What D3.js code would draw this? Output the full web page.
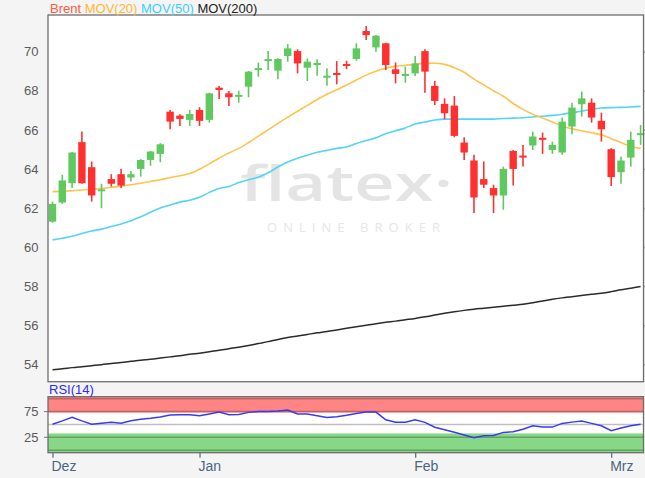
<!DOCTYPE html>
<html><head><meta charset="utf-8">
<script src="https://cdn.jsdelivr.net/npm/d3@7"></script>
<style>
html,body{margin:0;padding:0;background:#f4f4f4;}
svg{display:block;font-family:"Liberation Sans",Arial,sans-serif;}
</style></head>
<body>
<svg id="chart" width="645" height="478"></svg>
<script>
// ---- data ----
const opens  = [61.30,62.28,63.27,65.37,64.09,62.88,63.48,63.73,63.56,64.00,64.46,64.77,66.93,66.73,66.51,67.02,66.51,68.16,67.87,67.72,68.21,69.09,69.55,69.03,69.78,70.03,69.18,69.35,68.70,68.88,69.37,69.63,71.06,70.22,70.43,69.10,68.79,68.89,70.03,68.25,67.33,67.24,65.35,64.43,63.48,63.02,62.64,64.92,64.65,65.20,65.56,64.97,64.84,66.17,67.31,67.39,66.46,65.01,63.83,64.58,65.76];
const highs  = [62.33,63.70,64.87,65.91,64.38,63.24,63.73,64.00,63.90,64.50,64.92,65.32,67.02,66.80,67.02,67.16,67.90,68.25,67.99,68.00,69.01,69.44,70.03,69.66,70.39,70.12,69.66,69.61,69.15,69.52,69.54,70.43,71.31,70.85,70.46,69.45,69.23,69.78,70.12,68.50,67.61,67.73,65.62,64.72,64.38,63.19,64.12,64.97,65.23,65.91,65.86,65.40,66.63,67.39,67.96,67.61,66.88,65.06,64.63,65.91,66.25];
const lows   = [61.25,62.21,63.02,63.24,62.33,61.99,63.10,63.02,63.36,63.61,64.16,64.34,66.03,66.20,66.20,66.20,66.37,67.58,67.22,67.39,67.67,68.72,69.06,68.59,69.49,68.89,68.50,68.77,68.26,68.33,69.11,69.54,70.60,70.00,69.06,68.38,68.41,68.76,67.90,67.27,66.54,65.62,64.46,61.74,63.02,61.74,61.91,63.15,64.12,64.97,64.77,64.77,64.72,65.78,66.68,66.37,65.40,63.13,63.24,64.12,65.23];
const closes = [62.21,63.41,64.84,63.27,62.64,62.93,63.24,63.15,63.73,64.46,64.89,65.26,66.42,66.56,66.81,66.46,67.87,68.04,67.67,67.76,68.98,69.13,69.59,69.63,70.17,69.40,69.49,69.39,68.74,68.84,69.27,70.17,70.85,70.82,69.32,68.86,68.83,69.40,68.98,67.48,66.85,65.69,64.84,62.54,63.19,62.64,64.00,64.00,64.61,65.66,65.52,65.23,66.42,67.14,67.61,66.63,66.03,63.58,64.43,65.49,65.80];
const mov20  = [62.84,62.85,62.88,62.92,62.96,63.00,63.06,63.12,63.19,63.27,63.36,63.45,63.55,63.65,63.76,63.98,64.26,64.55,64.82,65.05,65.35,65.68,66.00,66.33,66.65,66.95,67.25,67.55,67.82,68.05,68.30,68.55,68.80,69.00,69.15,69.25,69.30,69.36,69.40,69.41,69.35,69.18,68.95,68.60,68.30,68.00,67.72,67.35,67.05,66.80,66.60,66.40,66.20,66.05,65.95,65.85,65.75,65.55,65.35,65.15,65.05];
const mov50  = [60.37,60.45,60.55,60.70,60.82,60.92,61.05,61.18,61.35,61.55,61.78,62.00,62.15,62.30,62.40,62.55,62.80,63.00,63.10,63.30,63.45,63.58,63.80,64.10,64.35,64.55,64.70,64.85,64.95,65.05,65.12,65.30,65.45,65.60,65.80,65.95,66.10,66.30,66.40,66.50,66.55,66.55,66.55,66.55,66.55,66.55,66.58,66.60,66.62,66.66,66.70,66.74,66.80,66.88,66.95,67.05,67.12,67.14,67.15,67.17,67.20];
const mov200 = [53.72,53.77,53.83,53.88,53.93,53.98,54.04,54.09,54.15,54.21,54.26,54.32,54.38,54.44,54.51,54.57,54.64,54.72,54.80,54.87,54.96,55.06,55.16,55.27,55.37,55.45,55.53,55.61,55.68,55.76,55.84,55.92,56.00,56.08,56.15,56.21,56.28,56.35,56.43,56.52,56.61,56.69,56.76,56.82,56.87,56.92,56.97,57.02,57.07,57.15,57.24,57.33,57.40,57.46,57.52,57.58,57.64,57.72,57.81,57.89,57.98];
const rsi    = [50.5,57,64,57,50.5,52.5,54.5,52.5,57,60,62,64.5,68.5,68.7,68.7,67,70.5,74,68.7,69.3,73.5,75,75,76,78,70.5,70.2,67,63.5,65,68,71.5,74,74,59,54.5,54.5,59,54,44.5,39.5,34.7,29.5,24,27.9,28.6,34.5,35.7,40.8,47.4,44.8,44.8,52,54.5,56.6,52.1,47.5,37.7,43,47.4,50.3];
const priceTicks = [54,56,58,60,62,64,66,68,70];
const rsiTicks = [25,75];
const rsiGrid = [0,25,50,75,100];
const monthLabels = ["Dez","Jan","Feb","Mrz"];
const monthIndex = [0,15,37,57];
const legendNames = ["Brent","MOV(20)","MOV(50)","MOV(200)"];

// ---- layout ----
const svg = d3.select("#chart");
const P = {l:48, r:643.5, t:15, b:381.7};
const R = {t:396.7, b:452.7};
const x = d3.scaleLinear().domain([0,60]).range([52.5,640.6]);
const y = d3.scaleLinear().domain([54,70]).range([364.3,51.7]);
const yr = d3.scaleLinear().domain([-5,104]).range([R.b,R.t]);

svg.append("rect").attr("width",645).attr("height",478).attr("fill","#f4f4f4");
// main plot background
svg.append("rect").attr("x",P.l).attr("y",P.t).attr("width",P.r-P.l).attr("height",P.b-P.t).attr("fill","#fff");

// watermark
const wm = svg.append("g").attr("fill","#e4e4e4");
wm.append("text").attr("x",240).attr("y",201).attr("font-family","'Open Sans',sans-serif")
  .attr("font-weight",600).attr("font-size",48).attr("textLength",213).attr("lengthAdjust","spacingAndGlyphs")
  .text("flatex·");
wm.append("text").attr("x",267).attr("y",232).attr("font-family","'Open Sans',sans-serif")
  .attr("font-size",13).attr("fill","#e6e6e6").attr("textLength",173).attr("lengthAdjust","spacing")
  .text("ONLINE BROKER");

// grid + y axis
const yAxis = d3.axisLeft(y).tickValues(priceTicks).tickSize(-(P.r-P.l)-4).tickFormat(d3.format("d")).tickPadding(6);
const ga = svg.append("g").attr("transform",`translate(${P.r},0)`).call(yAxis);
ga.select(".domain").remove();
ga.selectAll(".tick line").attr("stroke","#aaa").attr("stroke-width",1.6);
ga.selectAll(".tick text").remove();
svg.append("g").selectAll("text").data(priceTicks).join("text")
  .attr("x",38.5).attr("y",d=>y(d)).attr("dy","0.36em").attr("text-anchor","end")
  .attr("font-size",13).attr("fill","#5a5a5a").text(d=>d);

// moving averages
const line = arr => d3.line().x((d,i)=>x(i)).y(d=>y(d)).curve(d3.curveMonotoneX)(arr);
svg.append("path").attr("d",line(mov200)).attr("fill","none").attr("stroke","#2a2a2a").attr("stroke-width",1.5);
svg.append("path").attr("d",line(mov50)).attr("fill","none").attr("stroke","#52d4f6").attr("stroke-width",1.6);
svg.append("path").attr("d",line(mov20)).attr("fill","none").attr("stroke","#ffc34a").attr("stroke-width",1.6);

// candles
const idx = d3.range(opens.length);
const up = i => closes[i] >= opens[i];
const colorOf = i => up(i) ? "#5fc95f" : "#ff3030";
const cg = svg.append("g");
cg.selectAll("line").data(idx).join("line")
  .attr("x1",i=>x(i)).attr("x2",i=>x(i)).attr("y1",i=>y(highs[i])).attr("y2",i=>y(lows[i]))
  .attr("stroke",colorOf).attr("stroke-width",1.6);
const bw = 7.4;
cg.selectAll("rect").data(idx).join("rect")
  .attr("x",i=>x(i)-bw/2).attr("width",bw)
  .attr("y",i=>{const t=y(Math.max(opens[i],closes[i])), b=y(Math.min(opens[i],closes[i])); return b-t<2 ? (t+b)/2-1 : t;})
  .attr("height",i=>Math.max(2, y(Math.min(opens[i],closes[i]))-y(Math.max(opens[i],closes[i]))))
  .attr("fill",colorOf);

// main border
svg.append("rect").attr("x",P.l).attr("y",P.t).attr("width",P.r-P.l).attr("height",P.b-P.t)
  .attr("fill","none").attr("stroke","#6e6e6e").attr("stroke-width",1.3);

// legend
const lg = svg.append("text").attr("x",50).attr("y",13).attr("font-size",13);
const legendColors = ["#ff5b3f","#ffb833","#3fd0fa","#222"];
legendNames.forEach((n,k)=>lg.append("tspan").attr("fill",legendColors[k]).text((k?" ":"")+n));

// RSI panel
svg.append("rect").attr("x",P.l).attr("y",R.t).attr("width",P.r-P.l).attr("height",R.b-R.t).attr("fill","#fff");
svg.append("rect").attr("x",P.l).attr("y",R.t).attr("width",P.r-P.l).attr("height",yr(73)-R.t).attr("fill","#ff8585");
svg.append("rect").attr("x",P.l).attr("y",yr(32.5)).attr("width",P.r-P.l).attr("height",R.b-yr(32.5)).attr("fill","#86d886");
svg.append("g").selectAll("line").data(rsiGrid).join("line")
  .attr("x1",P.l).attr("x2",P.r).attr("y1",d=>yr(d)).attr("y2",d=>yr(d))
  .attr("stroke","#000").attr("stroke-opacity",0.25).attr("stroke-width",1.5);
svg.append("g").selectAll("line").data(rsiTicks).join("line")
  .attr("x1",P.l-4).attr("x2",P.l).attr("y1",d=>yr(d)).attr("y2",d=>yr(d)).attr("stroke","#777");
svg.append("g").selectAll("text").data(rsiTicks).join("text")
  .attr("x",38.5).attr("y",d=>yr(d)).attr("dy","0.36em").attr("text-anchor","end")
  .attr("font-size",13).attr("fill","#5a5a5a").text(d=>d);
svg.append("path").attr("d",d3.line().x((d,i)=>x(i)).y(d=>yr(d))(rsi))
  .attr("fill","none").attr("stroke","#3a3af0").attr("stroke-width",1.5);
svg.append("rect").attr("x",P.l).attr("y",R.t).attr("width",P.r-P.l).attr("height",R.b-R.t)
  .attr("fill","none").attr("stroke","#6e6e6e").attr("stroke-width",1.3);
svg.append("text").attr("x",49).attr("y",394).attr("font-size",13).attr("fill","#2b2bff").text("RSI(14)");

// x axis
const xa = svg.append("g").attr("transform",`translate(0,${R.b})`)
  .call(d3.axisBottom(x).tickValues(monthIndex).tickSize(5).tickFormat((d,k)=>monthLabels[k]));
xa.select(".domain").remove();
xa.selectAll(".tick line").attr("stroke","#5a7390").attr("stroke-width",1.3);
xa.selectAll(".tick text").attr("text-anchor","start").attr("x",-1.5).attr("y",8).attr("dy","0.75em")
  .attr("font-size",14).attr("fill","#4c6582").attr("font-family","'Liberation Sans',Arial,sans-serif");
</script>
</body></html>
